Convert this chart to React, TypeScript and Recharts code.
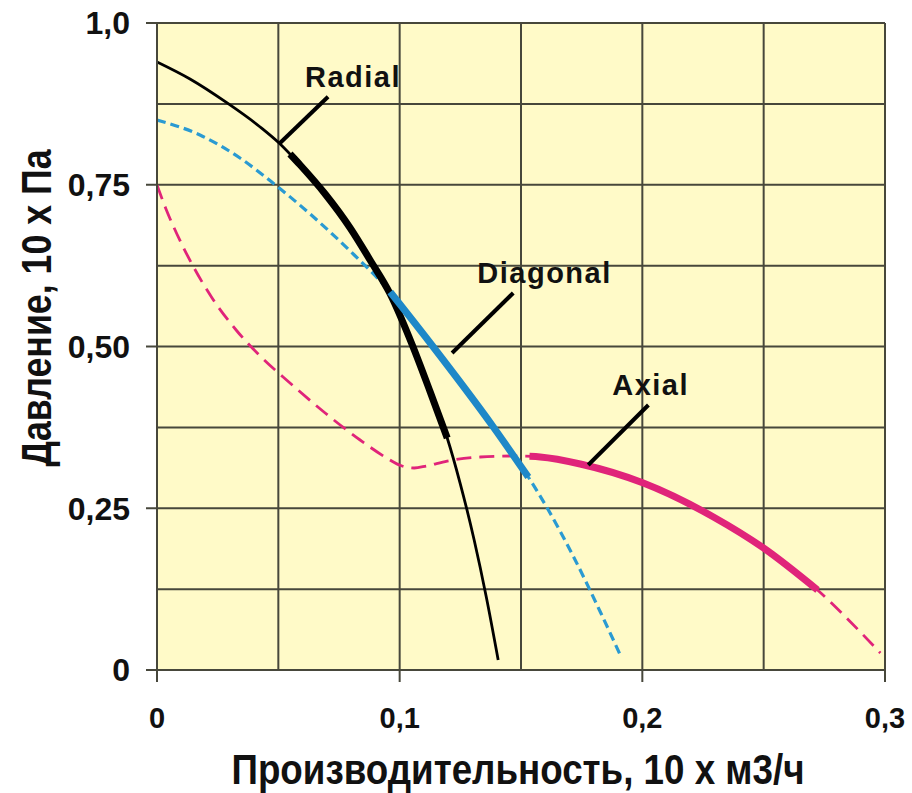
import React from 'react';
import {
  LineChart,
  Line,
  XAxis,
  YAxis,
  ReferenceLine,
  ReferenceArea,
  ReferenceDot,
  Label,
} from 'recharts';

// ---- axis ticks ----
const xTicks = [0, 0.1, 0.2, 0.3];
const xTickLabels = ['0', '0,1', '0,2', '0,3'];
const yTicks = [0, 0.25, 0.5, 0.75, 1];
const yTickLabels = ['0', '0,25', '0,50', '0,75', '1,0'];
const xGrid = [0.05, 0.1, 0.15, 0.2, 0.25, 0.3];
const yGrid = [0.125, 0.25, 0.375, 0.5, 0.625, 0.75, 0.875, 1];

// ---- Radial (black) ----
const radialX = [0, 0.0136, 0.0289, 0.0425, 0.0503, 0.059, 0.0693, 0.0796, 0.0878, 0.0961, 0.1052, 0.1126, 0.1196, 0.1249, 0.1307, 0.1357, 0.1406];
const radialY = [0.9397, 0.9134, 0.8764, 0.8393, 0.8145, 0.7805, 0.7357, 0.6832, 0.6337, 0.5811, 0.5023, 0.4297, 0.3586, 0.289, 0.2009, 0.1128, 0.0155];
const radialThickX = [0.0548, 0.059, 0.0693, 0.0796, 0.0878, 0.0961, 0.1052, 0.1126, 0.1196];
const radialThickY = [0.7975, 0.7805, 0.7357, 0.6832, 0.6337, 0.5811, 0.5023, 0.4297, 0.3586];

// ---- Diagonal (blue) ----
const diagX = [0, 0.0177, 0.0342, 0.0478, 0.0631, 0.0796, 0.0961, 0.1126, 0.1386, 0.153, 0.1608, 0.1715, 0.1827, 0.1909];
const diagY = [0.85, 0.8269, 0.7913, 0.7527, 0.7048, 0.6476, 0.5842, 0.5054, 0.3756, 0.2983, 0.2504, 0.1762, 0.0896, 0.0232];
const diagThickX = [0.0961, 0.1126, 0.1386, 0.153];
const diagThickY = [0.5842, 0.5054, 0.3756, 0.2983];

// ---- Axial (pink) ----
const axialX = [0, 0.0037, 0.0082, 0.0144, 0.0227, 0.0326, 0.0425, 0.0548, 0.0693, 0.0837, 0.094, 0.101, 0.106, 0.1109, 0.1196, 0.1332, 0.1485, 0.1579, 0.1744, 0.2004, 0.2293, 0.2499, 0.2722, 0.2858, 0.2981];
const axialY = [0.7496, 0.7125, 0.6739, 0.6275, 0.575, 0.5255, 0.4853, 0.4436, 0.3972, 0.3555, 0.3292, 0.3153, 0.3122, 0.3153, 0.323, 0.3292, 0.3308, 0.3292, 0.3184, 0.289, 0.2365, 0.1886, 0.1236, 0.0742, 0.0263];
const axialThickX = [0.1535, 0.1579, 0.1744, 0.2004, 0.2293, 0.2499, 0.2722];
const axialThickY = [0.3302, 0.3292, 0.3184, 0.289, 0.2365, 0.1886, 0.1236];

// ---- annotations ----
const labelNames = ['Radial', 'Diagonal', 'Axial'];
const labelX = [0.061, 0.132, 0.1876];
const labelY = [0.901, 0.598, 0.425];
const leaderFromX = [0.0705, 0.1468, 0.2025];
const leaderFromY = [0.886, 0.5827, 0.4096];
const leaderToX = [0.0507, 0.1216, 0.1777];
const leaderToY = [0.8145, 0.49, 0.3168];

const xTitle = 'Производительность, 10 х м3/ч';
const yTitle = 'Давление, 10 х Па';

const zip = (xs: number[], ys: number[]) => xs.map((x, i) => ({ x, y: ys[i] }));

const FONT = '"Liberation Sans", Arial, Helvetica, sans-serif';
const GRID = '#47473b';
const BG = '#FFFAC8';
const PINK = '#E0247A';
const BLUE = '#1E88C8';
const BLUE_D = '#2A9AD2';

const radial = zip(radialX, radialY);
const radialThick = zip(radialThickX, radialThickY);
const diag = zip(diagX, diagY);
const diagThick = zip(diagThickX, diagThickY);
const axial = zip(axialX, axialY);
const axialThick = zip(axialThickX, axialThickY);

const fmtX = (v: number) => {
  const i = xTicks.findIndex((t) => Math.abs(t - v) < 1e-9);
  return i >= 0 ? xTickLabels[i] : '';
};
const fmtY = (v: number) => {
  const i = yTicks.findIndex((t) => Math.abs(t - v) < 1e-9);
  return i >= 0 ? yTickLabels[i] : '';
};

const XTitle = (props: any) => {
  const vb = props.viewBox || { x: 157, y: 670, width: 728, height: 123 };
  return (
    <text
      x={vb.x + vb.width / 2 - 3}
      y={vb.y + 114}
      textAnchor="middle"
      fontFamily={FONT}
      fontWeight="bold"
      fontSize={42}
      fill="#111"
      textLength={573}
      lengthAdjust="spacingAndGlyphs"
    >
      {xTitle}
    </text>
  );
};

const YTitle = (props: any) => {
  const vb = props.viewBox || { x: 0, y: 23, width: 157, height: 647 };
  const cx = vb.x + 51;
  const cy = vb.y + 285;
  return (
    <text
      x={cx}
      y={cy}
      transform={`rotate(-90, ${cx}, ${cy})`}
      textAnchor="middle"
      fontFamily={FONT}
      fontWeight="bold"
      fontSize={42}
      fill="#111"
      textLength={317}
      lengthAdjust="spacingAndGlyphs"
    >
      {yTitle}
    </text>
  );
};

export default function App() {
  return (
    <div style={{ position: 'absolute', left: 0, top: 0, width: 912, height: 793, background: '#fff' }}>
      <LineChart width={912} height={793} margin={{ top: 23, right: 27, bottom: 0, left: 0 }}>
        <XAxis
          dataKey="x"
          type="number"
          domain={[0, 0.3]}
          ticks={xTicks}
          tickFormatter={fmtX}
          allowDataOverflow
          height={123}
          tickSize={12}
          tickMargin={25}
          axisLine={{ stroke: GRID, strokeWidth: 2 }}
          tickLine={{ stroke: GRID, strokeWidth: 2 }}
          tick={{ fill: '#111', fontSize: 29, fontWeight: 'bold', fontFamily: FONT }}
          interval={0}
        >
          <Label content={<XTitle />} />
        </XAxis>
        <YAxis
          dataKey="y"
          type="number"
          domain={[0, 1]}
          ticks={yTicks}
          tickFormatter={fmtY}
          allowDataOverflow
          width={157}
          tickSize={11}
          tickMargin={16}
          axisLine={{ stroke: GRID, strokeWidth: 2 }}
          tickLine={{ stroke: GRID, strokeWidth: 2 }}
          tick={{ fill: '#111', fontSize: 32, fontWeight: 'bold', fontFamily: FONT }}
          interval={0}
        >
          <Label content={<YTitle />} />
        </YAxis>

        <ReferenceArea x1={0} x2={0.3} y1={0} y2={1} fill={BG} fillOpacity={1} stroke="none" />
        {xGrid.map((g) => (
          <ReferenceLine key={'xg' + g} x={g} stroke={GRID} strokeWidth={2} />
        ))}
        {yGrid.map((g) => (
          <ReferenceLine key={'yg' + g} y={g} stroke={GRID} strokeWidth={2} />
        ))}

        <Line data={axial} dataKey="y" type="monotone" stroke={PINK} strokeWidth={2.8} strokeDasharray="15 8" dot={false} isAnimationActive={false} />
        <Line data={axialThick} dataKey="y" type="monotone" stroke={PINK} strokeWidth={7} dot={false} isAnimationActive={false} />
        <Line data={diag} dataKey="y" type="monotone" stroke={BLUE_D} strokeWidth={3.2} strokeDasharray="9 5" dot={false} isAnimationActive={false} />
        <Line data={radial} dataKey="y" type="monotone" stroke="#000" strokeWidth={2.8} dot={false} isAnimationActive={false} />
        <Line data={radialThick} dataKey="y" type="monotone" stroke="#000" strokeWidth={7} dot={false} isAnimationActive={false} />
        <Line data={diagThick} dataKey="y" type="monotone" stroke={BLUE} strokeWidth={7} dot={false} isAnimationActive={false} />

        {labelNames.map((n, i) => (
          <ReferenceLine
            key={'ld' + n}
            segment={[
              { x: leaderFromX[i], y: leaderFromY[i] },
              { x: leaderToX[i], y: leaderToY[i] },
            ]}
            stroke="#000"
            strokeWidth={4}
          />
        ))}
        {labelNames.map((n, i) => (
          <ReferenceDot
            key={'lb' + n}
            x={labelX[i]}
            y={labelY[i]}
            r={0}
            shape={(p: any) => (
              <text
                x={p.cx}
                y={p.cy}
                fontFamily={FONT}
                fontWeight="bold"
                fontSize={29}
                letterSpacing={1.5}
                fill="#111"
              >
                {n}
              </text>
            )}
          />
        ))}
      </LineChart>
    </div>
  );
}
